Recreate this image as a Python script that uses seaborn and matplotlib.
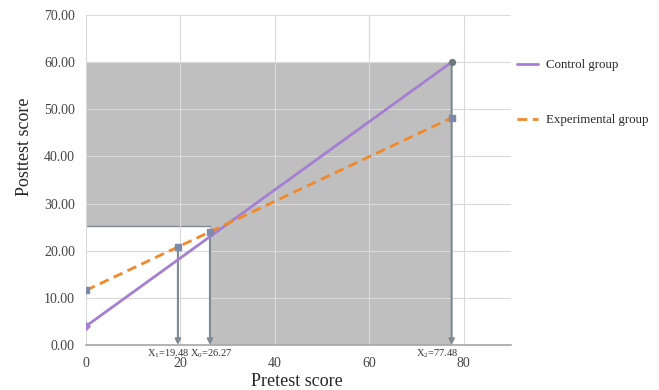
import matplotlib
matplotlib.use("Agg")
import matplotlib.pyplot as plt
import pandas as pd
import seaborn as sns

# values
control_x = [0, 77.48]
control_y = [4.0, 60.0]
exp_x = [0, 19.48, 26.27, 77.48]
exp_y = [11.6, 20.8, 24.0, 48.2]
x1, x0, x2 = 19.48, 26.27, 77.48
y_cut = 25.3
y_top = 60.0
x_labels = ["X$_1$=19.48", "X$_0$=26.27", "X$_2$=77.48"]
x_ticks = [0, 20, 40, 60, 80]
y_ticks = [0, 10, 20, 30, 40, 50, 60, 70]

sns.set_style("white")
plt.rcParams['font.family'] = ['Liberation Serif', 'DejaVu Serif']
plt.rcParams['mathtext.fontset'] = 'custom'
plt.rcParams['mathtext.rm'] = 'Liberation Serif'
plt.rcParams['mathtext.it'] = 'Liberation Serif'

fig = plt.figure(figsize=(6.59, 3.90), dpi=100)
ax = fig.add_axes([0.1305, 0.1154, 0.6445, 0.8461])

gray_fill = "#bfbfbf"
arrow_col = "#7f8a92"
ax.fill_between([0, x0], y_cut, y_top, color=gray_fill, lw=0, zorder=0.5)
ax.fill_between([x0, x2], 0, y_top, color=gray_fill, lw=0, zorder=0.5)
ax.plot([0, x0], [y_cut, y_cut], color=arrow_col, lw=1.0, zorder=0.8)

ctrl = pd.DataFrame({"x": control_x, "y": control_y})
expe = pd.DataFrame({"x": exp_x, "y": exp_y})
sns.lineplot(data=ctrl, x="x", y="y", ax=ax, color="#a57fd1", lw=2,
             label="Control group", zorder=3)
sns.lineplot(data=expe, x="x", y="y", ax=ax, color="#f0892a", lw=2,
             linestyle=(0, (3.5, 2)), label="Experimental group", zorder=3)

# arrows down to the axis
for xv, yv in [(x1, exp_y[1]), (x0, exp_y[2]), (x2, control_y[1])]:
    ax.annotate("", xy=(xv, 0), xytext=(xv, yv),
                arrowprops=dict(arrowstyle="-|>", color=arrow_col, lw=1.5,
                                mutation_scale=8, shrinkA=0, shrinkB=0),
                zorder=2)

ax.scatter([control_x[0]], [control_y[0]], marker="D", s=14, color="#a57fd1", zorder=4)
ax.scatter([control_x[1]], [control_y[1]], marker="o", s=18, color="#6f7a80", zorder=4)
ax.scatter(exp_x, exp_y, marker="s", s=20, color="#7d8aa9", zorder=4)

for txt, xp in zip(x_labels, [17.4, 26.6, 74.5]):
    ax.text(xp, -0.6, txt, ha="center", va="top", fontsize=7.5, color="#333333")

ax.set_xlim(0, 90)
ax.set_ylim(0, 70)
ax.set_xticks(x_ticks)
ax.set_yticks(y_ticks)
ax.set_yticklabels([f"{v:.2f}" for v in y_ticks], fontsize=10, color="#444444")
ax.set_xticklabels([str(v) for v in x_ticks], fontsize=10, color="#444444")
ax.tick_params(axis="x", pad=9, length=0)
ax.tick_params(axis="y", pad=8, length=0)
ax.set_axisbelow("line")
ax.grid(True, color="#d9d9d9", lw=0.8)
for s in ["top", "right", "left"]:
    ax.spines[s].set_visible(False)
ax.spines["bottom"].set_color("#a6a6a6")
ax.spines["bottom"].set_linewidth(1.2)

ax.set_xlabel("Pretest score", fontsize=13)
ax.set_ylabel("Posttest score", fontsize=13)
ax.xaxis.set_label_coords(0.497, -0.084)
ax.yaxis.set_label_coords(-0.124, 0.6)

ax.legend(loc="upper left", bbox_to_anchor=(1.0, 0.885), frameon=False,
          fontsize=9.3, labelspacing=3.3, handlelength=1.6, handletextpad=0.6,
          borderaxespad=0.1)

fig.savefig("out.png", dpi=100)
